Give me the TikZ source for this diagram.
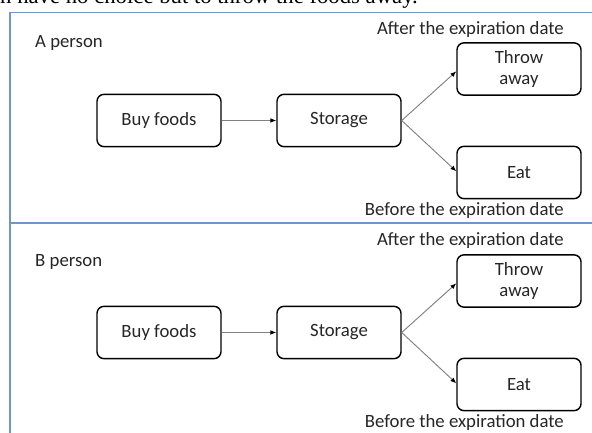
\documentclass[tikz,border=0pt]{standalone}
\usepackage{fontspec}
\setmainfont{Carlito}
\newfontfamily\bodyserif{Liberation Serif}
\usetikzlibrary{arrows.meta,positioning}

\definecolor{framecol}{RGB}{112,150,200}

\begin{document}
\begin{tikzpicture}[
  box/.style={draw, line width=1.2pt, rounded corners=6pt, align=center,
    minimum width=3.72cm, minimum height=1.57cm, inner sep=1pt,
    text=black!85, font=\fontsize{16}{18.7}\selectfont},
  tag/.style={text=black!85, font=\fontsize{16}{18.7}\selectfont, inner sep=0pt},
  arr/.style={-{Latex[length=5pt,width=4pt,color=black]}, draw=gray, line width=0.8pt}
]
\useasboundingbox (0,0) rectangle (17.76,12.96);
\clip (0,0) rectangle (17.76,12.96);

% cut-off line of the page above
\node[anchor=base west, inner sep=0pt, font=\bodyserif\fontsize{19.4}{22}\selectfont]
  (pagetext) at (0,12.86) {n have no choice but to throw the foods away.};

% frame
\draw[framecol, line width=1.6pt] (0.3,-0.5) rectangle (18,12.585);
\draw[framecol, line width=1.6pt] (0.3,6.27) -- (18,6.27);

% Top: A person
\node[tag, anchor=west] (pa) at (1.05,11.66) {A person};
\node[tag, anchor=east] (aftera) at (16.92,12.08) {After the expiration date};
\node[box] (buya) at (4.77,9.345) {Buy foods};
\node[box] (storea) at (10.17,9.345) {Storage};
\node[box] (throwa) at (15.57,10.89) {Throw\\away};
\node[box] (eata) at (15.57,7.785) {Eat};
\node[tag, anchor=east] (beforea) at (16.92,6.63) {Before the expiration date};

\draw[arr] (buya) -- (storea);
\draw[arr] (storea.east) -- ([yshift=-2pt]throwa.west);
\draw[arr] (storea.east) -- ([yshift=1pt]eata.west);

% Bottom: B person
\node[tag, anchor=west] (pb) at (1.05,5.1) {B person};
\node[tag, anchor=east] (afterb) at (16.92,5.73) {After the expiration date};
\node[box] (buyb) at (4.77,2.985) {Buy foods};
\node[box] (storeb) at (10.17,2.985) {Storage};
\node[box] (throwb) at (15.57,4.53) {Throw\\away};
\node[box] (eatb) at (15.57,1.425) {Eat};
\node[tag, anchor=east] (beforeb) at (16.92,0.27) {Before the expiration date};

\draw[arr] (buyb) -- (storeb);
\draw[arr] (storeb.east) -- ([yshift=-2pt]throwb.west);
\draw[arr] (storeb.east) -- ([yshift=1pt]eatb.west);

\end{tikzpicture}
\end{document}
